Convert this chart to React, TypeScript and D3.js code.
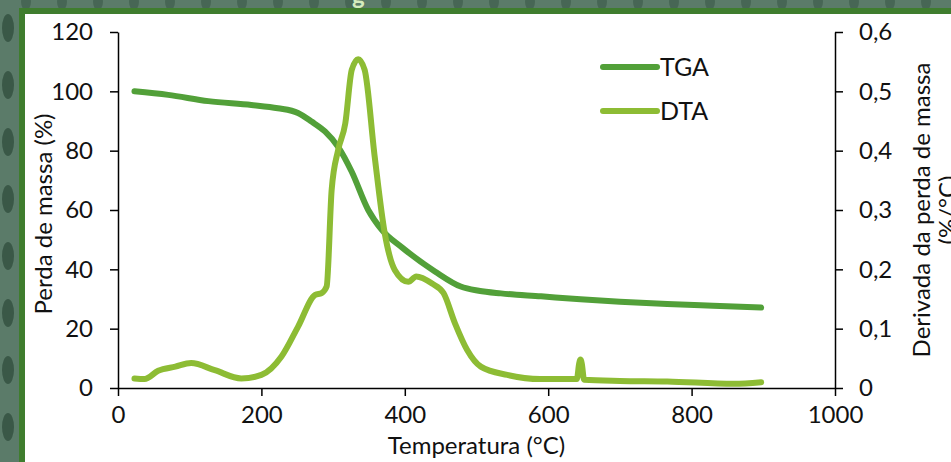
import { useEffect, useRef } from "react"
import * as d3 from "d3"

// TGA curve: temperature (°C) vs mass loss (%)
const tgaTemp = [23, 70, 126, 186, 223, 251, 270, 289, 307, 326, 349, 368, 396, 442, 478, 503, 534, 590, 645, 700, 766, 830, 897]
const tgaMass = [100, 98.8, 96.7, 95.4, 94.3, 92.7, 89.8, 86.4, 81.3, 72.9, 60, 53.3, 47.4, 39.3, 34.2, 32.8, 31.9, 30.9, 29.9, 29.1, 28.3, 27.7, 27.1]

// DTA curve: temperature (°C) vs derivative of mass loss (%/°C)
const dtaTemp = [23, 37, 56, 80, 102, 135, 172, 200, 228, 251, 275, 284, 291, 298, 307, 317, 326, 335, 344, 358, 372, 386, 405, 416, 438, 454, 470, 487, 506, 543, 589, 640, 643, 645, 647, 650, 700, 766, 859, 897]
const dtaDeriv = [0.016, 0.015, 0.029, 0.036, 0.042, 0.03, 0.016, 0.022, 0.053, 0.103, 0.157, 0.16, 0.171, 0.334, 0.401, 0.446, 0.536, 0.554, 0.536, 0.39, 0.261, 0.199, 0.179, 0.188, 0.176, 0.16, 0.109, 0.064, 0.036, 0.022, 0.015, 0.015, 0.04, 0.048, 0.04, 0.014, 0.012, 0.011, 0.007, 0.0096]

const xTicks = [0, 200, 400, 600, 800, 1000]
const leftTicks = [0, 20, 40, 60, 80, 100, 120]
const rightTicks = [0, 0.1, 0.2, 0.3, 0.4, 0.5, 0.6]

const seriesNames = ["TGA", "DTA"]
const seriesColors = ["#52a039", "#8dbc34"]

const FONT = "Lato, 'Open Sans', sans-serif"

export default function App() {
  const svgRef = useRef<SVGSVGElement>(null)

  useEffect(() => {
    if (!svgRef.current) return
    const W = 951
    const H = 462
    const plot = { left: 118, right: 835, top: 32, bottom: 388 }

    const svg = d3.select(svgRef.current)
    svg.selectAll("*").remove()

    // textured background
    const defs = svg.append("defs")
    const pat = defs
      .append("pattern")
      .attr("id", "bgtex")
      .attr("patternUnits", "userSpaceOnUse")
      .attr("width", 36)
      .attr("height", 57)
    pat.append("rect").attr("width", 36).attr("height", 57).attr("fill", "#5b7b69")
    pat.append("ellipse").attr("cx", 8).attr("cy", 28).attr("rx", 6).attr("ry", 14).attr("fill", "#2f4c3c").attr("opacity", 0.75)
    pat.append("ellipse").attr("cx", 26).attr("cy", 2).attr("rx", 5).attr("ry", 8).attr("fill", "#3a5847").attr("opacity", 0.6)

    svg.append("rect").attr("width", W).attr("height", H).attr("fill", "url(#bgtex)")
    svg.append("rect").attr("x", 19).attr("y", 8).attr("width", W).attr("height", H).attr("fill", "#3f7d2e")
    svg.append("rect").attr("x", 25).attr("y", 14).attr("width", W).attr("height", H).attr("fill", "#ffffff")

    // cut-off title glyph at the very top
    svg
      .append("text")
      .attr("x", 352)
      .attr("y", 4)
      .attr("font-family", FONT)
      .attr("font-weight", "bold")
      .attr("font-size", 24)
      .attr("fill", "#d4ebbd")
      .text("g")

    const x = d3.scaleLinear().domain([0, 1000]).range([plot.left, plot.right])
    const yL = d3.scaleLinear().domain([0, 120]).range([plot.bottom, plot.top])
    const yR = d3.scaleLinear().domain([0, 0.6]).range([plot.bottom, plot.top])

    const styleAxis = (g: d3.Selection<SVGGElement, unknown, null, undefined>) => {
      g.selectAll("path").attr("stroke", "#000").attr("stroke-width", 1.5)
      g.selectAll("line").attr("stroke", "#000").attr("stroke-width", 1.5)
      g.selectAll("text").attr("fill", "#111").attr("font-family", FONT).attr("font-size", 24)
      g.attr("font-family", FONT)
    }

    const fmtComma = (d: d3.NumberValue) => (+d === 0 ? "0" : (+d).toFixed(1).replace(".", ","))

    // axes
    svg
      .append("g")
      .attr("transform", `translate(0,${plot.bottom})`)
      .call(d3.axisBottom(x).tickValues(xTicks).tickFormat(d3.format("d")).tickSize(8).tickSizeOuter(0).tickPadding(10))
      .call(styleAxis)

    svg
      .append("g")
      .attr("transform", `translate(${plot.left},0)`)
      .call(d3.axisLeft(yL).tickValues(leftTicks).tickSize(8).tickSizeOuter(0).tickPadding(17))
      .call(styleAxis)

    svg
      .append("g")
      .attr("transform", `translate(${plot.right},0)`)
      .call(d3.axisRight(yR).tickValues(rightTicks).tickFormat(fmtComma).tickSize(8).tickSizeOuter(0).tickPadding(16))
      .call(styleAxis)

    // axis titles
    svg
      .append("text")
      .attr("transform", `translate(52,${(plot.top + plot.bottom) / 2 + 4}) rotate(-90)`)
      .attr("text-anchor", "middle")
      .attr("font-family", FONT)
      .attr("font-size", 24)
      .attr("fill", "#111")
      .text("Perda de massa (%)")

    const rt = svg
      .append("text")
      .attr("transform", `translate(930,${(plot.top + plot.bottom) / 2}) rotate(-90)`)
      .attr("text-anchor", "middle")
      .attr("font-family", FONT)
      .attr("font-size", 24)
      .attr("fill", "#111")
    rt.append("tspan").attr("x", 0).attr("dy", 0).text("Derivada da perda de massa")
    rt.append("tspan").attr("x", 0).attr("dy", 26).text("(%/°C)")

    svg
      .append("text")
      .attr("x", (plot.left + plot.right) / 2)
      .attr("y", 454)
      .attr("text-anchor", "middle")
      .attr("font-family", FONT)
      .attr("font-size", 24)
      .attr("fill", "#111")
      .text("Temperatura (°C)")

    // series
    const tgaLine = d3
      .line<number>()
      .x((_, i) => x(tgaTemp[i]))
      .y((d) => yL(d))
      .curve(d3.curveMonotoneX)
    const dtaLine = d3
      .line<number>()
      .x((_, i) => x(dtaTemp[i]))
      .y((d) => yR(d))
      .curve(d3.curveMonotoneX)

    svg
      .append("path")
      .attr("d", tgaLine(tgaMass))
      .attr("fill", "none")
      .attr("stroke", seriesColors[0])
      .attr("stroke-width", 6)
      .attr("stroke-linecap", "round")
      .attr("stroke-linejoin", "round")

    svg
      .append("path")
      .attr("d", dtaLine(dtaDeriv))
      .attr("fill", "none")
      .attr("stroke", seriesColors[1])
      .attr("stroke-width", 6)
      .attr("stroke-linecap", "round")
      .attr("stroke-linejoin", "round")

    // legend
    const legend = svg
      .selectAll(".legend")
      .data(seriesNames)
      .enter()
      .append("g")
      .attr("class", "legend")
      .attr("transform", (_, i) => `translate(603,${67 + i * 44})`)

    legend
      .append("line")
      .attr("x1", 0)
      .attr("x2", 54)
      .attr("stroke", (_, i) => seriesColors[i])
      .attr("stroke-width", 6)
      .attr("stroke-linecap", "round")

    legend
      .append("text")
      .attr("x", 57)
      .attr("y", 9)
      .attr("font-family", FONT)
      .attr("font-size", 25)
      .attr("fill", "#111")
      .text((d) => d)
  }, [])

  return (
    <svg
      ref={svgRef}
      width={951}
      height={462}
      style={{ position: "absolute", left: 0, top: 0, display: "block" }}
    />
  )
}
